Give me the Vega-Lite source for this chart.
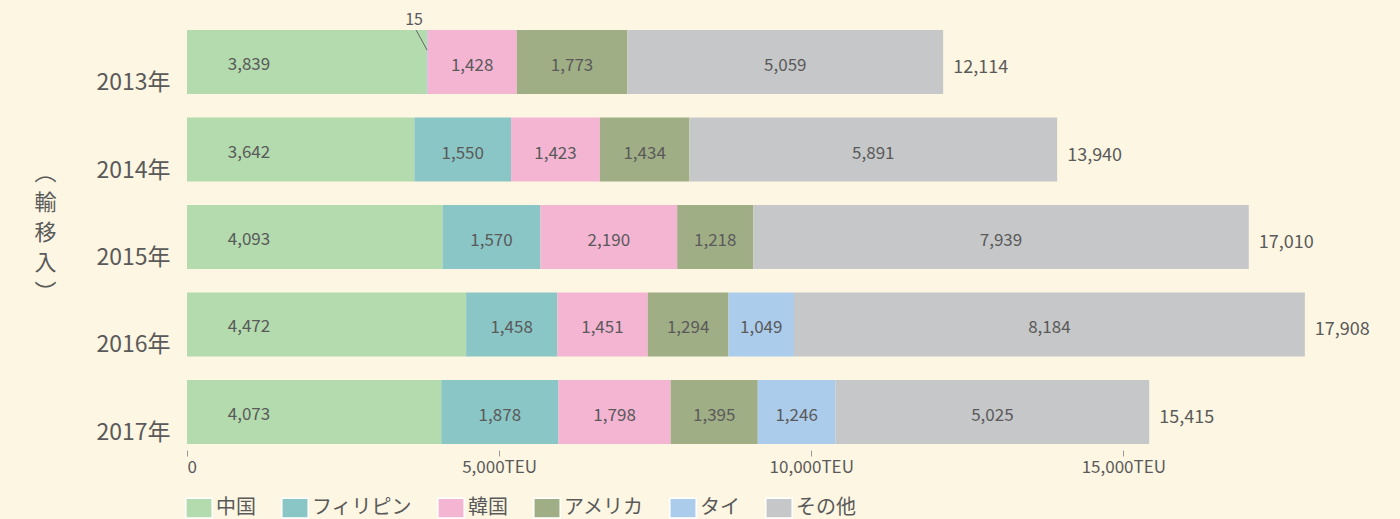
{
  "$schema": "https://vega.github.io/schema/vega-lite/v6.json",
  "width": 1186,
  "height": 426,
  "autosize": {"type": "none"},
  "padding": {"left": 187, "top": 24, "right": 27, "bottom": 69},
  "background": "#fdf6e2",
  "config": {
    "view": {"stroke": null},
    "font": "Noto Sans CJK JP",
    "text": {"font": "Noto Sans CJK JP"}
  },
  "data": {
    "values": [
      {"year": "2013年", "country": "中国", "value": 3839, "order": 1},
      {"year": "2013年", "country": "フィリピン", "value": 15, "order": 2},
      {"year": "2013年", "country": "韓国", "value": 1428, "order": 3},
      {"year": "2013年", "country": "アメリカ", "value": 1773, "order": 4},
      {"year": "2013年", "country": "その他", "value": 5059, "order": 6},
      {"year": "2014年", "country": "中国", "value": 3642, "order": 1},
      {"year": "2014年", "country": "フィリピン", "value": 1550, "order": 2},
      {"year": "2014年", "country": "韓国", "value": 1423, "order": 3},
      {"year": "2014年", "country": "アメリカ", "value": 1434, "order": 4},
      {"year": "2014年", "country": "その他", "value": 5891, "order": 6},
      {"year": "2015年", "country": "中国", "value": 4093, "order": 1},
      {"year": "2015年", "country": "フィリピン", "value": 1570, "order": 2},
      {"year": "2015年", "country": "韓国", "value": 2190, "order": 3},
      {"year": "2015年", "country": "アメリカ", "value": 1218, "order": 4},
      {"year": "2015年", "country": "その他", "value": 7939, "order": 6},
      {"year": "2016年", "country": "中国", "value": 4472, "order": 1},
      {"year": "2016年", "country": "フィリピン", "value": 1458, "order": 2},
      {"year": "2016年", "country": "韓国", "value": 1451, "order": 3},
      {"year": "2016年", "country": "アメリカ", "value": 1294, "order": 4},
      {"year": "2016年", "country": "タイ", "value": 1049, "order": 5},
      {"year": "2016年", "country": "その他", "value": 8184, "order": 6},
      {"year": "2017年", "country": "中国", "value": 4073, "order": 1},
      {"year": "2017年", "country": "フィリピン", "value": 1878, "order": 2},
      {"year": "2017年", "country": "韓国", "value": 1798, "order": 3},
      {"year": "2017年", "country": "アメリカ", "value": 1395, "order": 4},
      {"year": "2017年", "country": "タイ", "value": 1246, "order": 5},
      {"year": "2017年", "country": "その他", "value": 5025, "order": 6}
    ]
  },
  "transform": [
    {"stack": "value", "groupby": ["year"], "sort": [{"field": "order", "order": "ascending"}], "as": ["x0", "x1"]},
    {"calculate": "(datum.x0 + datum.x1) / 2", "as": "mid"}
  ],
  "encoding": {
    "y": {
      "field": "year",
      "type": "nominal",
      "sort": ["2013年", "2014年", "2015年", "2016年", "2017年"],
      "scale": {"paddingInner": 0.27, "paddingOuter": 0.07},
      "axis": {
        "title": ["︵", "輸", "移", "入", "︶"],
        "titleAngle": 0,
        "titleX": -142,
        "titleY": 148,
        "titleAlign": "center",
        "titleBaseline": "middle",
        "titleLineHeight": 30,
        "titleFontSize": 22,
        "titleFontWeight": "normal",
        "titleColor": "#5a5a5a",
        "titleFont": "Noto Sans CJK JP",
        "labelFontSize": 23,
        "labelColor": "#5a5a5a",
        "labelPadding": 17,
        "labelOffset": 21,
        "ticks": false,
        "domain": false,
        "grid": false
      }
    }
  },
  "layer": [
    {
      "mark": {"type": "bar"},
      "encoding": {
        "x": {
          "field": "x0",
          "type": "quantitative",
          "scale": {"domain": [0, 19000], "nice": false},
          "axis": {
            "title": null,
            "values": [0, 5000, 10000, 15000],
            "labelExpr": "datum.value == 0 ? '0' : format(datum.value, ',') + 'TEU'",
            "labelFontSize": 17,
            "labelColor": "#5a5a5a",
            "labelPadding": 3,
            "tickColor": "#999999",
            "tickSize": 6,
            "domain": false,
            "grid": false
          }
        },
        "x2": {"field": "x1"},
        "color": {
          "field": "country",
          "type": "nominal",
          "scale": {
            "domain": ["中国", "フィリピン", "韓国", "アメリカ", "タイ", "その他"],
            "range": ["#b3dbae", "#8bc6c6", "#f4b5d3", "#a0ae86", "#acccec", "#c6c7c9"]
          },
          "legend": {
            "title": null,
            "orient": "none",
            "direction": "horizontal",
            "legendX": 0,
            "legendY": 472,
            "padding": 0,
            "symbolType": "M-1.2,-0.9H1.2V0.9H-1.2Z",
            "symbolSize": 484,
            "symbolStrokeColor": "#ffffff",
            "symbolStrokeWidth": 1.5,
            "symbolOpacity": 1,
            "labelFontSize": 20,
            "labelColor": "#5a5a5a",
            "labelOffset": 5,
            "columnPadding": 22
          }
        }
      }
    },
    {
      "transform": [{"filter": "datum.value >= 100 && datum.country != '中国'"}],
      "mark": {"type": "text", "fontSize": 17, "color": "#5a5a5a", "align": "center", "baseline": "middle", "dy": 4},
      "encoding": {
        "x": {"field": "mid", "type": "quantitative"},
        "text": {"field": "value", "type": "quantitative", "format": ","}
      }
    },
    {
      "transform": [{"filter": "datum.country == '中国'"}],
      "mark": {"type": "text", "fontSize": 17, "color": "#5a5a5a", "align": "center", "baseline": "middle", "dx": 62, "dy": 3},
      "encoding": {
        "x": {"field": "x0", "type": "quantitative"},
        "text": {"field": "value", "type": "quantitative", "format": ","}
      }
    },
    {
      "transform": [{"filter": "datum.value < 100"}],
      "mark": {"type": "text", "fontSize": 16, "color": "#5a5a5a", "align": "center", "baseline": "middle", "dx": -13, "dy": -42},
      "encoding": {
        "x": {"field": "mid", "type": "quantitative"},
        "text": {"field": "value", "type": "quantitative", "format": ","}
      }
    },
    {
      "transform": [{"filter": "datum.value < 100"}],
      "mark": {"type": "rule", "color": "#666666", "strokeWidth": 1, "xOffset": -11, "yOffset": -32, "x2Offset": 0, "y2Offset": -12},
      "encoding": {
        "x": {"field": "mid", "type": "quantitative"},
        "x2": {"field": "mid"},
        "y2": {"field": "year"}
      }
    },
    {
      "mark": {"type": "text", "fontSize": 18, "color": "#5a5a5a", "align": "left", "baseline": "middle", "dx": 10, "dy": 6},
      "encoding": {
        "x": {"aggregate": "sum", "field": "value", "type": "quantitative"},
        "text": {"aggregate": "sum", "field": "value", "type": "quantitative", "format": ","}
      }
    }
  ]
}
